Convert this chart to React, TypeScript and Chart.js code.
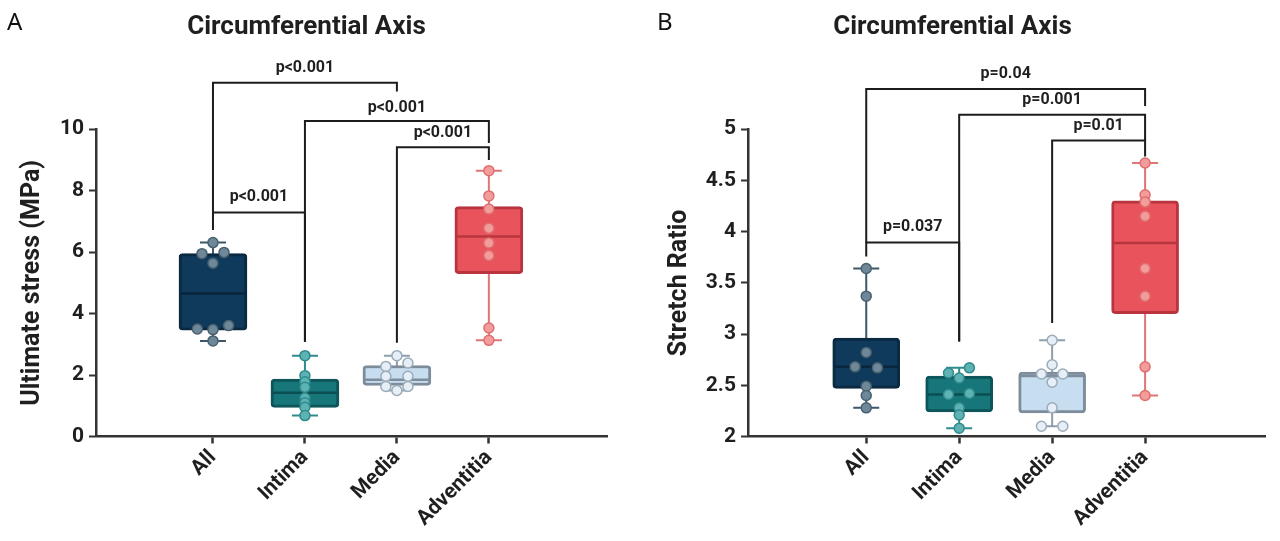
import React, { useEffect, useRef } from 'react';
import { Chart, registerables } from 'chart.js';

Chart.register(...registerables);

// ---------- shared ----------
const categories = ['All', 'Intima', 'Media', 'Adventitia'];

// ---------- Panel A: Ultimate stress (MPa) ----------
const stressMin = [3.11, 0.68, 1.5, 3.13];
const stressQ1 = [3.46, 0.95, 1.66, 5.3];
const stressMedian = [4.65, 1.42, 1.85, 6.51];
const stressQ3 = [5.95, 1.87, 2.31, 7.48];
const stressMax = [6.31, 2.63, 2.63, 8.65];
const stressPointsAll = [6.31, 5.95, 5.99, 5.64, 3.5, 3.48, 3.61, 3.11];
const stressPointsIntima = [2.63, 1.98, 1.78, 1.6, 1.25, 1.1, 0.95, 0.68];
const stressPointsMedia = [2.63, 2.28, 2.39, 1.96, 1.96, 1.63, 1.63, 1.5];
const stressPointsAdventitia = [8.65, 7.83, 7.4, 6.78, 6.3, 5.89, 3.53, 3.13];
const stressJitterAll = [0, -0.12, 0.12, 0, -0.17, 0, 0.17, 0];
const stressJitterIntima = [0, 0, 0, 0, 0, 0, 0, 0];
const stressJitterMedia = [0, -0.12, 0.12, -0.12, 0.12, -0.12, 0.12, 0];
const stressJitterAdventitia = [0, 0, 0, 0, 0, 0, 0, 0];
const stressTicks = [0, 2, 4, 6, 8, 10];
const stressPValues = ['p<0.001', 'p<0.001', 'p<0.001', 'p<0.001'];

// ---------- Panel B: Stretch ratio ----------
const stretchMin = [2.28, 2.08, 2.1, 2.4];
const stretchQ1 = [2.47, 2.24, 2.23, 3.2];
const stretchMedian = [2.68, 2.41, 2.59, 3.89];
const stretchQ3 = [2.96, 2.59, 2.63, 4.3];
const stretchMax = [3.64, 2.67, 2.94, 4.67];
const stretchPointsAll = [3.64, 3.37, 2.82, 2.68, 2.67, 2.49, 2.4, 2.28];
const stretchPointsIntima = [2.62, 2.67, 2.57, 2.41, 2.42, 2.28, 2.21, 2.08];
const stretchPointsMedia = [2.94, 2.7, 2.61, 2.61, 2.53, 2.28, 2.1, 2.1];
const stretchPointsAdventitia = [4.67, 4.36, 4.29, 4.15, 3.64, 3.37, 2.68, 2.4];
const stretchJitterAll = [0, 0, 0, -0.12, 0.12, 0, 0, 0];
const stretchJitterIntima = [-0.115, 0.11, 0, -0.115, 0.11, 0, 0, 0];
const stretchJitterMedia = [0, 0, -0.115, 0.115, 0, 0, -0.115, 0.115];
const stretchJitterAdventitia = [0, 0, 0, 0, 0, 0, 0, 0];
const stretchTicks = [2, 2.5, 3, 3.5, 4, 4.5, 5];
const stretchPValues = ['p=0.04', 'p=0.001', 'p=0.01', 'p=0.037'];

// ---------- styles ----------
const boxFill = ['#0f3a5b', '#177679', '#c7def1', '#e9545c'];
const boxBorder = ['#0a2a42', '#0d5558', '#7d8d9b', '#b8353f'];
const medianColor = ['#09263c', '#0c4f52', '#7d8d9b', '#b8353f'];
const whiskerColor = ['#3e5667', '#2f8b8d', '#8f9eac', '#df7676'];
const pointFill = ['#6f8899', '#5db2b4', '#e6eff7', '#f39c9c'];
const pointBorder = ['#48616f', '#2f8a8c', '#9cabb8', '#df6f6f'];
const INK = '#1f1f1f';
const AXIS = '#333333';

// bracket layout: [from, to, level, leftEnd, rightEnd, labelLevel] in value units
const stressBrackets = [
  [0, 2, 11.51, 7.28, 11.23, 11.98],
  [1, 3, 10.27, 3.08, 9.55, 10.69],
  [2, 3, 9.41, 3.05, 9.0, 9.89],
  [0, 1, 7.29, 6.72, 3.08, 7.79],
];
const stretchBrackets = [
  [0, 3, 5.393, 3.893, 5.227, 5.54],
  [1, 3, 5.14, 2.927, 4.889, 5.286],
  [2, 3, 4.889, 3.107, 4.733, 5.027],
  [0, 1, 3.893, 3.757, 2.927, 4.043],
];

type PanelCfg = {
  letter: string;
  yTitle: string;
  min: number[]; q1: number[]; med: number[]; q3: number[]; max: number[];
  points: number[][]; jitter: number[][];
  ticks: number[];
  brackets: number[][];
  pvalues: string[];
  width: number;
  yAxisWidth: number;
  padRight: number;
  yTitlePad: number;
  boxWidth: number;
  letterX: number;
};

const panelA: PanelCfg = {
  letter: 'A',
  yTitle: 'Ultimate stress (MPa)',
  min: stressMin, q1: stressQ1, med: stressMedian, q3: stressQ3, max: stressMax,
  points: [stressPointsAll, stressPointsIntima, stressPointsMedia, stressPointsAdventitia],
  jitter: [stressJitterAll, stressJitterIntima, stressJitterMedia, stressJitterAdventitia],
  ticks: stressTicks,
  brackets: stressBrackets,
  pvalues: stressPValues,
  width: 614,
  yAxisWidth: 96,
  padRight: 1,
  yTitlePad: 18,
  boxWidth: 68,
  letterX: 7,
};

const panelB: PanelCfg = {
  letter: 'B',
  yTitle: 'Stretch Ratio',
  min: stretchMin, q1: stretchQ1, med: stretchMedian, q3: stretchQ3, max: stretchMax,
  points: [stretchPointsAll, stretchPointsIntima, stretchPointsMedia, stretchPointsAdventitia],
  jitter: [stretchJitterAll, stretchJitterIntima, stretchJitterMedia, stretchJitterAdventitia],
  ticks: stretchTicks,
  brackets: stretchBrackets,
  pvalues: stretchPValues,
  width: 640,
  yAxisWidth: 108,
  padRight: 15,
  yTitlePad: 25,
  boxWidth: 67,
  letterX: 17,
};

function makePlugin(cfg: PanelCfg) {
  return {
    id: 'boxExtras',
    beforeDatasetsDraw(chart: any) {
      const { ctx, scales } = chart;
      const xs = scales.x, ys = scales.y;
      ctx.save();
      categories.forEach((_, i) => {
        const x = xs.getPixelForValue(i + 1);
        const yMin = ys.getPixelForValue(cfg.min[i]);
        const yMax = ys.getPixelForValue(cfg.max[i]);
        ctx.strokeStyle = whiskerColor[i];
        ctx.lineWidth = 2;
        ctx.beginPath();
        ctx.moveTo(x, yMin); ctx.lineTo(x, yMax);
        ctx.moveTo(x - 13, yMin); ctx.lineTo(x + 13, yMin);
        ctx.moveTo(x - 13, yMax); ctx.lineTo(x + 13, yMax);
        ctx.stroke();
      });
      ctx.restore();
    },
    afterDatasetDraw(chart: any, args: any) {
      if (args.index !== 0) return;
      const { ctx, scales } = chart;
      const xs = scales.x, ys = scales.y;
      ctx.save();
      categories.forEach((_, i) => {
        const x = xs.getPixelForValue(i + 1);
        const y = ys.getPixelForValue(cfg.med[i]);
        const hw = cfg.boxWidth / 2 - 2;
        ctx.strokeStyle = medianColor[i];
        ctx.lineWidth = 2.5;
        ctx.beginPath();
        ctx.moveTo(x - hw, y); ctx.lineTo(x + hw, y);
        ctx.stroke();
      });
      ctx.restore();
    },
    afterDraw(chart: any) {
      const { ctx, scales } = chart;
      const xs = scales.x, ys = scales.y;
      ctx.save();
      ctx.strokeStyle = '#1c1c1c';
      ctx.lineWidth = 2;
      ctx.lineJoin = 'miter';
      ctx.fillStyle = INK;
      ctx.font = 'bold 16px Roboto';
      ctx.textAlign = 'center';
      ctx.textBaseline = 'middle';
      cfg.brackets.forEach((b, k) => {
        const [from, to, level, leftEnd, rightEnd, labelLevel] = b;
        const xL = xs.getPixelForValue(from + 1);
        const xR = xs.getPixelForValue(to + 1);
        const yL = ys.getPixelForValue(level);
        ctx.beginPath();
        ctx.moveTo(xL, ys.getPixelForValue(leftEnd));
        ctx.lineTo(xL, yL);
        ctx.lineTo(xR, yL);
        ctx.lineTo(xR, ys.getPixelForValue(rightEnd));
        ctx.stroke();
        ctx.fillText(cfg.pvalues[k], (xL + xR) / 2, ys.getPixelForValue(labelLevel));
      });
      ctx.font = '24px "Noto Sans"';
      ctx.textAlign = 'left';
      ctx.textBaseline = 'alphabetic';
      ctx.fillStyle = '#111';
      ctx.fillText(cfg.letter, cfg.letterX, 30);
      ctx.restore();
    },
  };
}

function buildConfig(cfg: PanelCfg): any {
  const tickFont = { family: 'Roboto', size: 21, weight: 'bold' as const };
  const pts: any[] = [];
  const pf: string[] = [];
  const pb: string[] = [];
  cfg.points.forEach((arr, i) => {
    arr.forEach((v, j) => {
      pts.push({ x: i + 1 + cfg.jitter[i][j], y: v });
      pf.push(pointFill[i]);
      pb.push(pointBorder[i]);
    });
  });
  return {
    type: 'bar',
    data: {
      datasets: [
        {
          type: 'bar',
          data: categories.map((_, i) => ({ x: i + 1, y: [cfg.q1[i], cfg.q3[i]] })),
          backgroundColor: boxFill,
          borderColor: boxBorder,
          borderWidth: 3,
          borderRadius: 4,
          borderSkipped: false,
          barThickness: cfg.boxWidth,
          grouped: false,
          order: 2,
        },
        {
          type: 'scatter',
          data: pts,
          pointBackgroundColor: pf,
          pointBorderColor: pb,
          pointBorderWidth: 1.5,
          pointRadius: 5,
          showLine: false,
          order: 1,
        },
      ],
    },
    options: {
      responsive: false,
      animation: false,
      devicePixelRatio: 1,
      layout: { padding: { left: 0, right: cfg.padRight, top: 0, bottom: 0 } },
      plugins: {
        legend: { display: false },
        tooltip: { enabled: false },
        title: {
          display: true,
          text: 'Circumferential Axis',
          color: INK,
          font: { family: 'Roboto', size: 26, weight: 'bold' },
          padding: { top: 12, bottom: 86 },
        },
      },
      scales: {
        x: {
          type: 'linear',
          offset: false,
          bounds: 'ticks',
          min: -0.272,
          max: 5.29,
          afterBuildTicks: (s: any) => { s.ticks = categories.map((_, i) => ({ value: i + 1 })); },
          afterFit: (s: any) => { s.height = 104.5; },
          ticks: {
            autoSkip: false,
            maxRotation: 45,
            minRotation: 45,
            padding: 2,
            color: INK,
            font: tickFont,
            callback: (v: number) => categories[Math.round(v) - 1],
          },
          grid: { display: true, offset: false, drawOnChartArea: false, drawTicks: true, tickLength: 7, tickWidth: 2.5, tickColor: AXIS },
          border: { display: true, width: 2.5, color: AXIS },
        },
        y: {
          type: 'linear',
          min: cfg.ticks[0],
          max: cfg.ticks[cfg.ticks.length - 1],
          afterBuildTicks: (s: any) => { s.ticks = cfg.ticks.map((v) => ({ value: v })); },
          afterFit: (s: any) => { s.width = cfg.yAxisWidth; },
          ticks: { color: INK, font: tickFont, padding: 5, callback: (v: number) => String(v) },
          grid: { display: true, drawOnChartArea: false, drawTicks: true, tickLength: 7, tickWidth: 2, tickColor: AXIS },
          border: { display: true, width: 2.5, color: AXIS },
          title: {
            display: true,
            text: cfg.yTitle,
            color: INK,
            font: { family: 'Roboto', size: 25, weight: 'bold' },
            padding: { top: cfg.yTitlePad, bottom: 0 },
          },
        },
      },
    },
    plugins: [makePlugin(cfg)],
  };
}

function Panel({ cfg, left }: { cfg: PanelCfg; left: number }) {
  const ref = useRef<HTMLCanvasElement>(null);
  useEffect(() => {
    const chart = new Chart(ref.current as HTMLCanvasElement, buildConfig(cfg));
    return () => chart.destroy();
  }, [cfg]);
  return (
    <div style={{ position: 'absolute', left, top: 0, width: cfg.width, height: 541 }}>
      <canvas ref={ref} width={cfg.width} height={541} style={{ display: 'block' }} />
    </div>
  );
}

export default function App() {
  return (
    <div style={{ position: 'absolute', left: 0, top: 0, width: 1280, height: 541, background: '#ffffff', overflow: 'hidden' }}>
      <Panel cfg={panelA} left={0} />
      <Panel cfg={panelB} left={640} />
    </div>
  );
}
